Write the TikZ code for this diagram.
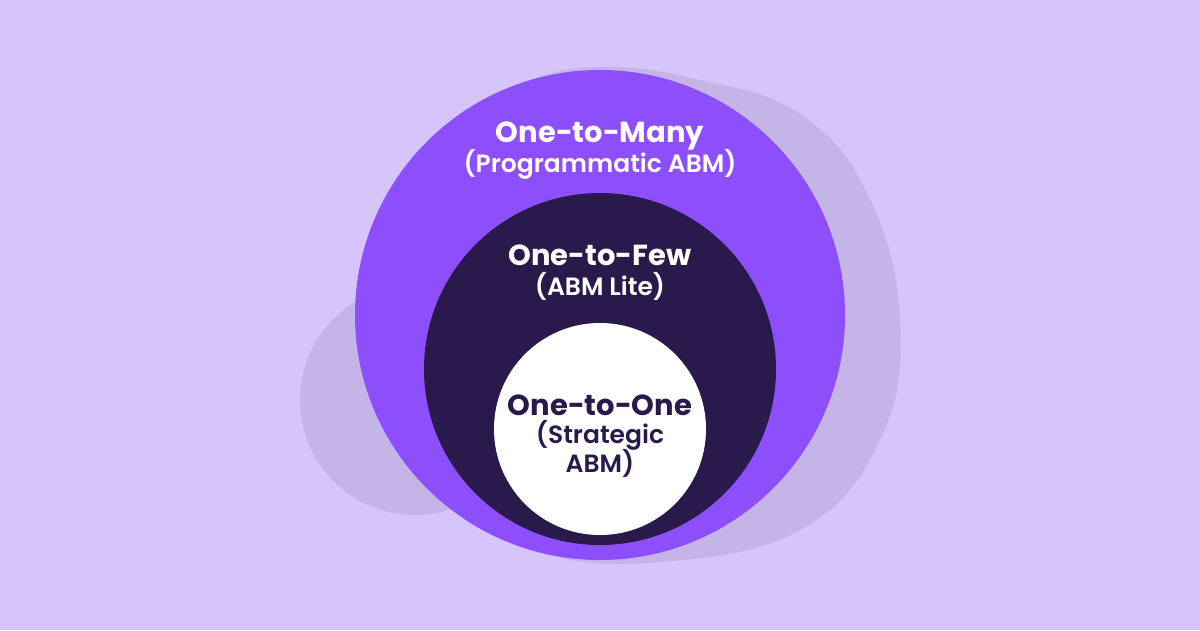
\documentclass[tikz,border=0pt]{standalone}
\usepackage{fontspec}
\setmainfont{Poppins}
\newfontfamily\popsemi{Poppins SemiBold}
\definecolor{bgc}{HTML}{D6C4FA}
\definecolor{shadowc}{HTML}{C5B4E6}
\definecolor{purplec}{HTML}{8C4FFB}
\definecolor{darkc}{HTML}{2A1A4B}
\tikzset{
  titletext/.style={anchor=base, inner sep=0pt, font=\bfseries\fontsize{29}{30}\selectfont},
  subtext/.style={anchor=base, inner sep=0pt, font=\popsemi\fontsize{25}{28}\selectfont},
}
\begin{document}
\begin{tikzpicture}[x=1pt,y=-1pt]
\useasboundingbox (0,0) rectangle (1200,630);
\fill[bgc] (0,0) rectangle (1200,630);
% shadow blob
\fill[shadowc] plot[smooth cycle, tension=0.7] coordinates {
  (600,67) (700,80) (800,114) (868,195) (900,320) (880,440) (800,530) (660,562) (540,552)
  (470,500) (430,400) (420,250) (470,130) (520,85)};
\fill[shadowc] (415,400) circle (115);
% circles
\fill[purplec] (600,315) circle (245);
\fill[darkc] (600,369) circle (176);
\fill[white] (600,429) circle (106);
% texts
\node[titletext, text=white] (many) at (600,142) {One-to-Many};
\node[subtext, text=white] (manysub) at (600,172) {(Programmatic ABM)};
\node[titletext, text=white] (few) at (600,265) {One-to-Few};
\node[subtext, text=white] (fewsub) at (600,295) {(ABM Lite)};
\node[titletext, text=darkc] (one) at (600,415) {One-to-One};
\node[subtext, text=darkc] (onesub) at (600,443) {(Strategic};
\node[subtext, text=darkc] (onesub2) at (600,472) {ABM)};
\end{tikzpicture}
\end{document}
